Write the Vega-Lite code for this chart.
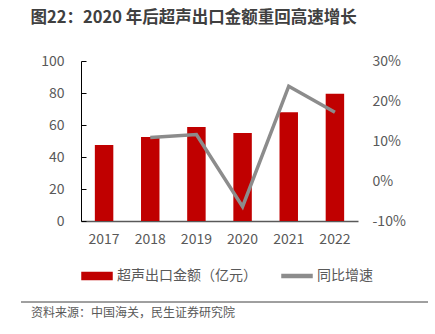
{
  "$schema": "https://vega.github.io/schema/vega-lite/v6.json",
  "padding": {"left": 20, "top": 9, "right": 8, "bottom": 4},
  "title": {
    "text": "图22：2020 年后超声出口金额重回高速增长",
    "anchor": "start",
    "frame": "bounds",
    "dx": 10,
    "fontSize": 16.5,
    "fontWeight": "bold",
    "color": "#404040",
    "offset": 28
  },
  "config": {
    "font": "Noto Sans CJK SC",
    "view": {"stroke": null},
    "concat": {"spacing": 18}
  },
  "data": {
    "values": [
      {"year": "2017", "amount": 47.5, "growth": null},
      {"year": "2018", "amount": 52.5, "growth": 10.9},
      {"year": "2019", "amount": 58.8, "growth": 11.6},
      {"year": "2020", "amount": 55.0, "growth": -6.4},
      {"year": "2021", "amount": 67.9, "growth": 23.7},
      {"year": "2022", "amount": 79.6, "growth": 17.2}
    ]
  },
  "vconcat": [
    {
      "width": 277,
      "height": 160,
      "layer": [
        {
          "mark": {"type": "bar"},
          "encoding": {
            "x": {
              "field": "year",
              "type": "ordinal",
              "scale": {"paddingInner": 0.6, "paddingOuter": 0.3},
              "axis": {
                "title": null,
                "labelAngle": 0,
                "ticks": false,
                "domainColor": "#595959",
                "domainWidth": 1.5,
                "labelFontSize": 14,
                "labelColor": "#595959",
                "labelPadding": 11
              }
            },
            "y": {
              "field": "amount",
              "type": "quantitative",
              "scale": {"domain": [0, 100], "nice": false},
              "axis": {
                "title": null,
                "values": [0, 20, 40, 60, 80, 100],
                "grid": false,
                "domainColor": "#000000",
                "tickColor": "#000000",
                "tickSize": -5,
                "labelPadding": 22,
                "labelFontSize": 14,
                "labelColor": "#595959"
              }
            },
            "color": {
              "datum": "超声出口金额（亿元）",
              "type": "nominal",
              "scale": {
                "domain": ["超声出口金额（亿元）", "同比增速"],
                "range": ["#c00000", "#8c8c8c"]
              },
              "legend": {
                "title": null,
                "orient": "bottom",
                "direction": "horizontal",
                "labelFontSize": 14,
                "labelColor": "#595959",
                "symbolSize": 900,
                "labelOffset": 4,
                "columnPadding": 22,
                "offset": 14,
                "padding": 0,
                "encode": {
                  "symbols": {
                    "update": {
                      "shape": {"signal": "datum.value === '同比增速' ? 'M-1,-0.1H1V0.1H-1Z' : 'M-1,-0.233H1V0.233H-1Z'"},
                      "fill": {"signal": "datum.value === '同比增速' ? '#8c8c8c' : '#c00000'"},
                      "stroke": {"value": "transparent"},
                      "size": {"value": 900},
                      "opacity": {"value": 1}
                    }
                  }
                }
              }
            }
          }
        },
        {
          "transform": [{"filter": "datum.growth != null"}],
          "mark": {"type": "line", "strokeWidth": 3.5},
          "encoding": {
            "x": {"field": "year", "type": "ordinal"},
            "y": {
              "field": "growth",
              "type": "quantitative",
              "scale": {"domain": [-10, 30], "nice": false, "zero": false},
              "axis": {
                "orient": "right",
                "title": null,
                "values": [-10, 0, 10, 20, 30],
                "grid": false,
                "domain": false,
                "ticks": false,
                "labelPadding": 14,
                "labelFontSize": 14,
                "labelColor": "#595959",
                "labelExpr": "datum.value + '%'"
              }
            },
            "color": {"datum": "同比增速", "type": "nominal"}
          }
        }
      ],
      "resolve": {"scale": {"y": "independent"}}
    },
    {
      "width": 347,
      "height": 20,
      "data": {"values": [{"source": "资料来源：中国海关，民生证券研究院"}]},
      "layer": [
        {
          "mark": {"type": "rule", "color": "#404040", "strokeWidth": 1},
          "encoding": {
            "x": {"datum": -60, "type": "quantitative", "scale": {"domain": [0, 347], "nice": false, "zero": false}, "axis": null},
            "x2": {"datum": 347},
            "y": {"datum": 20, "type": "quantitative", "scale": {"domain": [0, 20], "nice": false, "zero": false}, "axis": null}
          }
        },
        {
          "mark": {"type": "text", "align": "left", "baseline": "middle", "fontSize": 12, "color": "#595959"},
          "encoding": {
            "x": {"datum": -50, "type": "quantitative"},
            "y": {"datum": 9, "type": "quantitative"},
            "text": {"field": "source"}
          }
        }
      ]
    }
  ],
  "resolve": {"scale": {"color": "independent"}}
}
